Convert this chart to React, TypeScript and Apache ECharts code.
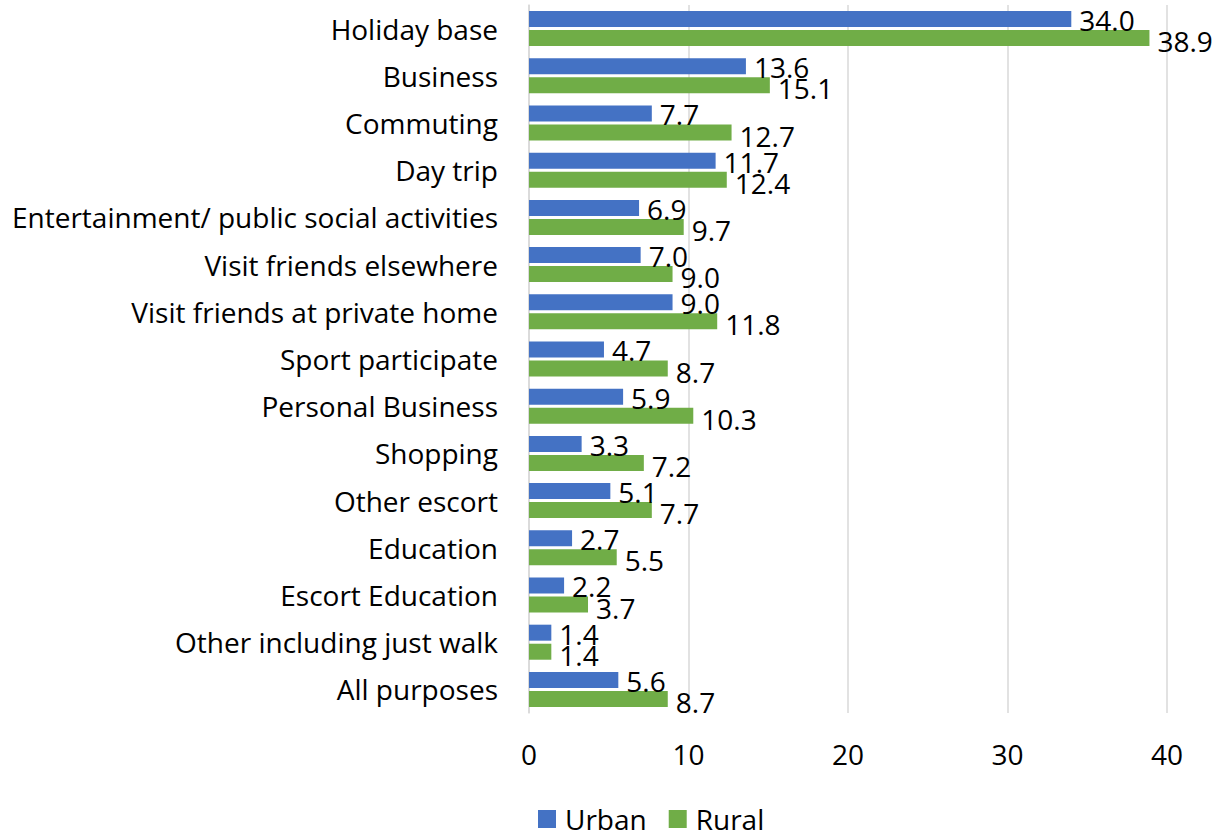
import React, { useEffect, useRef } from "react";
import * as echarts from "echarts";

const categories = [
  "Holiday base",
  "Business",
  "Commuting",
  "Day trip",
  "Entertainment/ public social activities",
  "Visit friends elsewhere",
  "Visit friends at private home",
  "Sport participate",
  "Personal Business",
  "Shopping",
  "Other escort",
  "Education",
  "Escort Education",
  "Other including just walk",
  "All purposes",
];

const urban = [34.0, 13.6, 7.7, 11.7, 6.9, 7.0, 9.0, 4.7, 5.9, 3.3, 5.1, 2.7, 2.2, 1.4, 5.6];
const rural = [38.9, 15.1, 12.7, 12.4, 9.7, 9.0, 11.8, 8.7, 10.3, 7.2, 7.7, 5.5, 3.7, 1.4, 8.7];

const FONT = "Open Sans";
const FS = 28;

export default function App() {
  const ref = useRef<HTMLDivElement>(null);
  useEffect(() => {
    document.body.style.margin = "0";
    const chart = echarts.init(ref.current!, undefined, { renderer: "svg" });
    const label = {
      show: true,
      position: "right",
      distance: 8,
      fontFamily: FONT,
      fontSize: FS,
      color: "#000",
      formatter: (p: any) => p.value.toFixed(1),
    };
    chart.setOption({
      animation: false,
      textStyle: { fontFamily: FONT },
      grid: { left: 529, right: 58, top: 5, bottom: 118, containLabel: false },
      legend: {
        left: 538,
        top: 805,
        padding: 0,
        itemWidth: 18,
        itemHeight: 18,
        itemGap: 22,
        icon: "rect",
        textStyle: {
          fontFamily: FONT,
          fontSize: FS,
          color: "#000",
          lineHeight: 26,
          padding: [0, 0, 0, 4],
        },
        data: ["Urban", "Rural"],
      },
      xAxis: {
        type: "value",
        min: 0,
        max: 40,
        interval: 10,
        axisLine: { show: false },
        axisTick: { show: false },
        splitLine: { lineStyle: { color: "#d9d9d9", width: 1.5 } },
        axisLabel: { fontFamily: FONT, fontSize: FS, color: "#000", margin: 27 },
      },
      yAxis: {
        type: "category",
        data: categories,
        inverse: true,
        axisLine: { show: true, lineStyle: { color: "#d9d9d9", width: 1.5 } },
        axisTick: { show: false },
        axisLabel: { fontFamily: FONT, fontSize: FS, color: "#000", margin: 31 },
      },
      series: [
        {
          name: "Urban",
          type: "bar",
          data: urban,
          barWidth: 16,
          barGap: "19%",
          itemStyle: { color: "#4472C4" },
          label: { ...label, offset: [0, 1] },
        },
        {
          name: "Rural",
          type: "bar",
          data: rural,
          barWidth: 16,
          barGap: "19%",
          itemStyle: { color: "#70AD47" },
          label: { ...label, offset: [0, 3] },
        },
      ],
    });
    return () => chart.dispose();
  }, []);
  return <div ref={ref} style={{ width: 1225, height: 831 }} />;
}
